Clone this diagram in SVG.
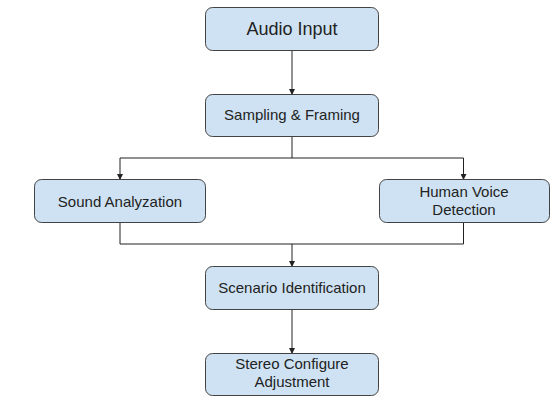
<svg xmlns="http://www.w3.org/2000/svg" width="559" height="402" viewBox="0 0 559 402">
<style>
.box{fill:#cfe2f3;stroke:#434343;stroke-width:1}
.t{font-family:"Liberation Sans",Arial,sans-serif;font-size:15px;fill:#222;text-anchor:middle}
.big{font-size:18px}
.c{fill:none;stroke:#222;stroke-width:1}
</style>
<defs>
<marker id="a" markerWidth="6" markerHeight="6" refX="5" refY="3" orient="auto" markerUnits="userSpaceOnUse">
<path d="M0,0 L6,3 L0,6 Z" fill="#222"/>
</marker>
</defs>
<rect width="559" height="402" fill="#fff"/>
<g id="connectors">
<path class="c" d="M292,50 V94" marker-end="url(#a)"/>
<path class="c" d="M292,136 V158"/>
<path class="c" d="M120,158 H463.5"/>
<path class="c" d="M120,158 V179" marker-end="url(#a)"/>
<path class="c" d="M463.5,158 V179" marker-end="url(#a)"/>
<path class="c" d="M120,223 V244 H463.5 V223"/>
<path class="c" d="M292,244 V266" marker-end="url(#a)"/>
<path class="c" d="M292,309 V353" marker-end="url(#a)"/>
</g>
<g id="audio-input">
<rect class="box" x="205.5" y="7.5" width="173" height="43" rx="7"/>
<text class="t big" x="292" y="35">Audio Input</text>
</g>
<g id="sampling">
<rect class="box" x="205.5" y="94.5" width="173" height="42" rx="7"/>
<text class="t" x="292" y="120">Sampling &amp; Framing</text>
</g>
<g id="sound-analyzation">
<rect class="box" x="34.5" y="179.5" width="171" height="43" rx="7"/>
<text class="t" x="120" y="207">Sound Analyzation</text>
</g>
<g id="human-voice">
<rect class="box" x="379.5" y="179.5" width="170" height="43" rx="7"/>
<text class="t" x="464" y="197">Human Voice</text>
<text class="t" x="464" y="215">Detection</text>
</g>
<g id="scenario">
<rect class="box" x="205.5" y="266.5" width="173" height="43" rx="7"/>
<text class="t" x="292" y="293">Scenario Identification</text>
</g>
<g id="stereo">
<rect class="box" x="205.5" y="353.5" width="173" height="42" rx="7"/>
<text class="t" x="292" y="369">Stereo Configure</text>
<text class="t" x="292" y="387">Adjustment</text>
</g>
</svg>
